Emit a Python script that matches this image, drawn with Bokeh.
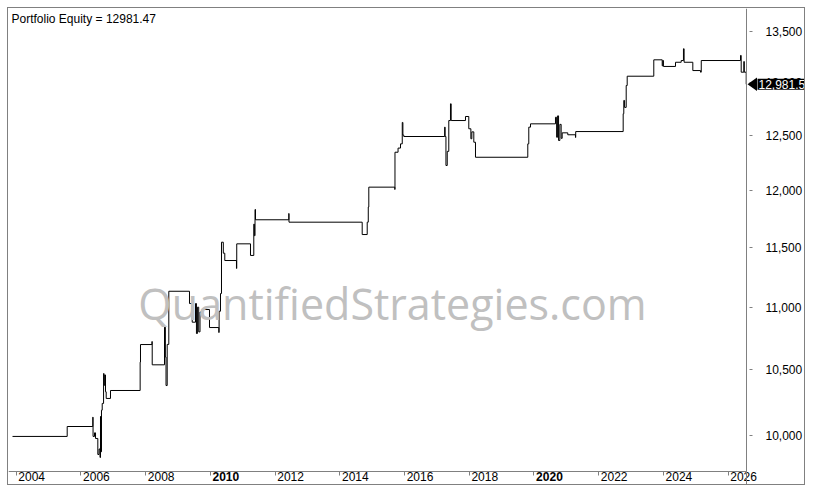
import math
from bokeh.plotting import figure
from bokeh.models import (Range1d, FixedTicker, NumeralTickFormatter, Label,
                          PolyAnnotation, LinearAxis)
from bokeh.embed import file_html
from bokeh.resources import INLINE

# equity curve (fractional year, equity after that date)
dates = [
    2003.886, 2005.576, 2006.367, 2006.375, 2006.420, 2006.451, 2006.522, 2006.560,
    2006.590, 2006.605, 2006.620, 2006.635, 2006.658, 2006.700, 2006.715, 2006.735,
    2006.760, 2006.781, 2006.914, 2007.830, 2007.841, 2008.195, 2008.203, 2008.583,
    2008.610, 2008.630, 2008.666, 2008.716, 2009.355, 2009.439, 2009.541, 2009.570,
    2009.600, 2009.640, 2009.680, 2009.748, 2009.973, 2010.261, 2010.270, 2010.313,
    2010.344, 2010.400, 2010.446, 2010.807, 2010.815, 2011.240, 2011.342, 2011.360,
    2011.380, 2011.395, 2012.424, 2012.430, 2014.692, 2014.847, 2014.880, 2014.896,
    2015.700, 2015.705, 2015.800, 2015.876, 2015.930, 2015.950, 2015.978, 2017.240,
    2017.255, 2017.280, 2017.320, 2017.368, 2017.420, 2017.442, 2017.884, 2017.986,
    2018.050, 2018.080, 2018.141, 2018.193, 2019.809, 2019.840, 2019.893, 2020.665,
    2020.700, 2020.730, 2020.760, 2020.800, 2020.840, 2020.872, 2021.045, 2021.283,
    2021.290, 2022.757, 2022.776, 2022.800, 2022.850, 2022.881, 2023.703, 2023.963,
    2023.985, 2024.000, 2024.374, 2024.550, 2024.620, 2024.640, 2024.909, 2025.147,
    2025.170, 2026.383, 2026.404, 2026.485, 2026.500, 2026.559,
]
equity = [
    9993, 10067, 10137, 9993, 10020, 9978, 9860, 9900,
    9838, 10142, 9880, 10190, 10241, 10471, 10380, 10460,
    10330, 10279, 10340, 10560, 10699, 10723, 10539, 10838,
    10600, 10378, 10700, 11131, 11030, 10878, 11030, 10787,
    11000, 10800, 10960, 10981, 10835, 10795, 10967, 11112,
    11544, 11450, 11388, 11321, 11530, 11431, 11700, 11600,
    11828, 11738, 11793, 11717, 11610, 11717, 11850, 12026,
    12005, 12342, 12380, 12419, 12618, 12500, 12487, 12574,
    12487, 12221, 12350, 12636, 12794, 12636, 12674, 12559,
    12466, 12530, 12434, 12296, 12419, 12574, 12605, 12667,
    12480, 12680, 12450, 12600, 12470, 12521, 12503, 12478,
    12533, 12700, 12826, 12760, 12969, 13059, 13219, 13160,
    13212, 13154, 13195, 13212, 13328, 13195, 13114, 13098,
    13212, 13262, 13098, 13202, 13098, 12981.47,
]

year_ticks = list(range(2004, 2027, 2))
bold_years = [2010, 2020]
equity_ticks = [10000, 10500, 11000, 11500, 12000, 12500, 13000, 13500]

FONT = "Liberation Sans"
GREY = "#808080"

# the frame covers the whole box; the axes sit inside it at fixed places
x0, x1 = 2003.762, 2028.422
x_edge = 2026.568          # right edge of the plotting area (price axis)
y0, y1 = 9628.2, 13732.6
y_edge = 9736.1            # bottom edge of the plotting area (time axis)
frame_h = 478
lbl_shift = 0.479          # year labels sit just right of their tick

p = figure(width=798, height=478, x_range=Range1d(x0, x1), y_range=Range1d(y0, y1),
           y_axis_type="log", y_axis_location="right", title=None,
           output_backend="svg", toolbar_location=None, min_border=0,
           styles={"border": "1px solid " + GREY, "margin": "7px"})
p.grid.visible = False
p.outline_line_color = None
p.background_fill_color = "white"
p.border_fill_color = "white"

p.step(dates, equity, mode="after", line_color="black", line_width=1)

xa = p.xaxis[0]
xa.fixed_location = y_edge
xa.bounds = (x0, x_edge)
xa.ticker = FixedTicker(ticks=year_ticks, minor_ticks=[])
xa.major_label_overrides = {y: "" for y in year_ticks}
xa.axis_line_color = GREY
xa.major_tick_line_color = GREY
xa.major_tick_in = 0
xa.major_tick_out = 4
xa.minor_tick_line_color = None


def year_labels(years, style):
    ticks = [y + lbl_shift for y in years]
    ax = LinearAxis(fixed_location=y_edge, ticker=FixedTicker(ticks=ticks, minor_ticks=[]),
                    major_label_overrides={t: str(y) for t, y in zip(ticks, years)},
                    axis_line_color=None, major_tick_line_color=None,
                    minor_tick_line_color=None, major_tick_in=0, major_tick_out=0,
                    major_label_standoff=1, major_label_text_font=FONT,
                    major_label_text_font_size="12px", major_label_text_color="black",
                    major_label_text_font_style=style)
    p.add_layout(ax, "below")


year_labels([y for y in year_ticks if y not in bold_years], "normal")
year_labels(bold_years, "bold")

ya = p.yaxis[0]
ya.fixed_location = x_edge
ya.ticker = FixedTicker(ticks=equity_ticks, minor_ticks=[])
ya.formatter = NumeralTickFormatter(format="0,0")
ya.axis_line_color = GREY
ya.major_tick_line_color = GREY
ya.major_tick_in = -3
ya.major_tick_out = 6
ya.minor_tick_line_color = None
ya.major_label_standoff = 13
ya.major_label_text_font = FONT
ya.major_label_text_font_size = "12px"
ya.major_label_text_color = "black"

p.add_layout(Label(x=384, y=183, x_units="screen", y_units="screen",
                   text="QuantifiedStrategies.com", text_align="center",
                   text_baseline="alphabetic", text_font="Open Sans",
                   text_font_size="43px", text_color="#c0c0c0"))

p.add_layout(Label(x=3, y=467.7, x_units="screen", y_units="screen",
                   text="Portfolio Equity = %.2f" % equity[-1], text_align="left",
                   text_baseline="alphabetic", text_font=FONT, text_font_size="12px",
                   text_color="black"))

# last value marker on the price axis
last = equity[-1]
k = math.exp(6.7 * math.log(y1 / y0) / frame_h)
p.add_layout(PolyAnnotation(xs=[739, 748.5, 748.5], ys=[last, last * k, last / k],
                            xs_units="screen", ys_units="data",
                            fill_color="black", fill_alpha=1, line_color=None))
p.add_layout(Label(x=749, y=last, x_units="screen", y_units="data",
                   text="{:,.1f}".format(last), text_align="left", text_baseline="middle",
                   text_font=FONT, text_font_size="12px", text_color="white",
                   background_fill_color="black", padding=1))

open("out.html", "w").write(file_html(p, INLINE))
